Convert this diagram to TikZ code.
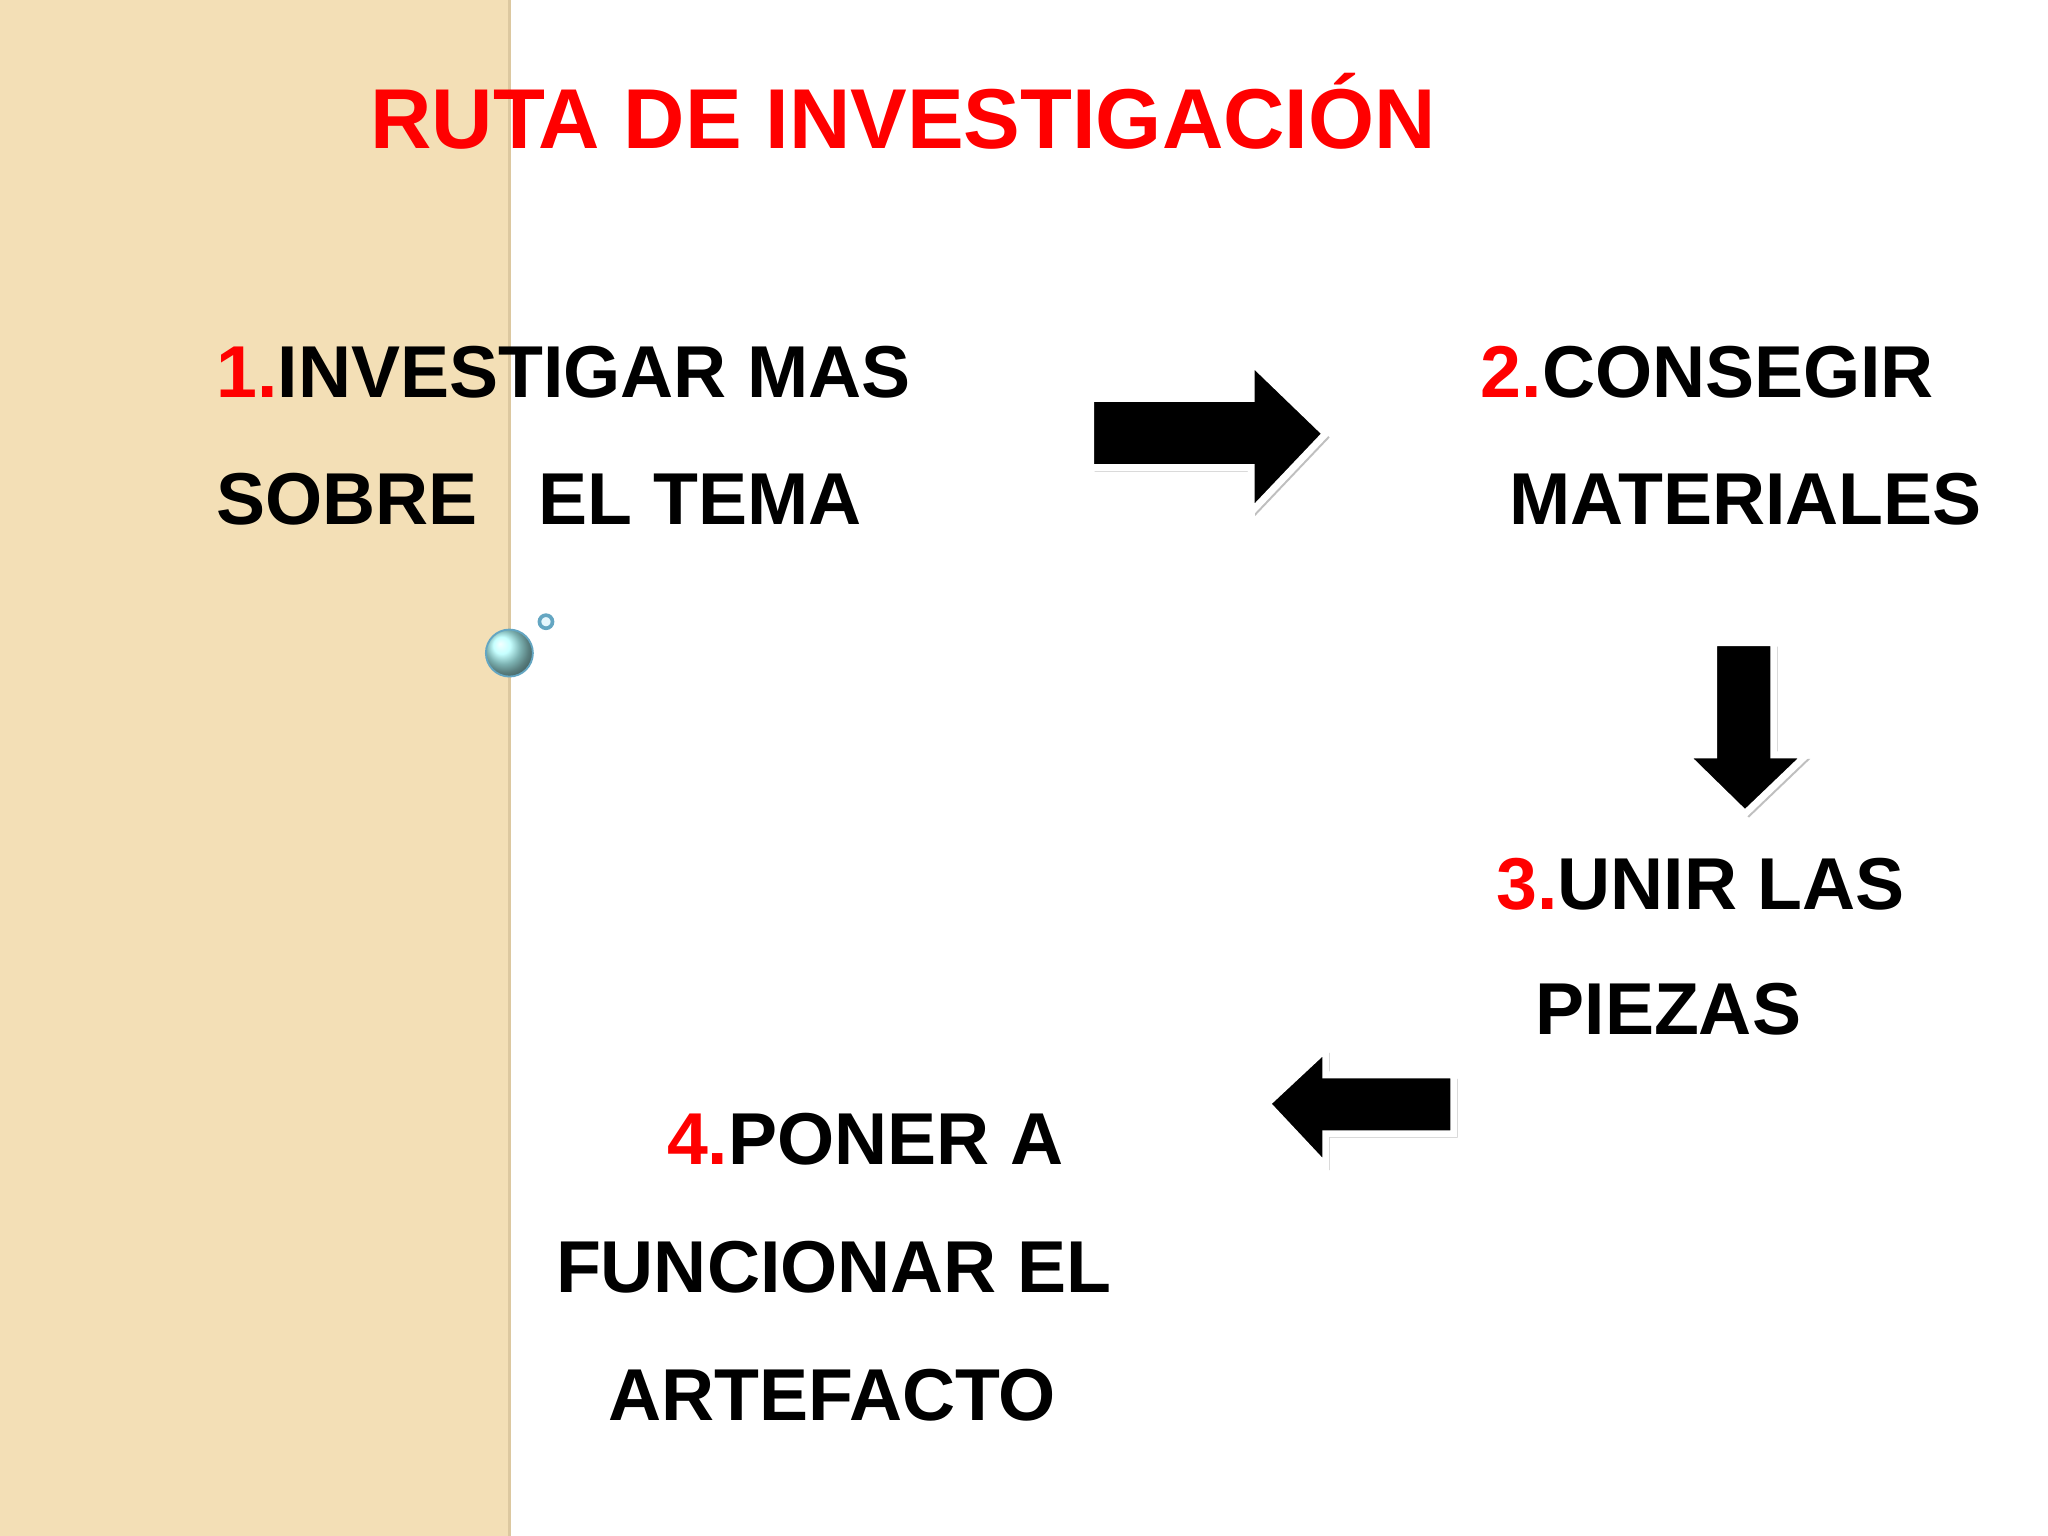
\documentclass[tikz,border=0pt]{standalone}
\usepackage{fontspec}
\setmainfont{Liberation Sans}
\begin{document}
\begin{tikzpicture}[x=0.01cm,y=-0.01cm,
  lbl/.style={anchor=west,font=\bfseries\fontsize{16}{18}\selectfont,text=black,inner sep=0},
  arr/.style={fill=black,draw=white,line width=1.5pt,drop shadow={opacity=0.4}}]
\useasboundingbox (0,0) rectangle (1568,1176);
\fill[white] (0,0) rectangle (1568,1176);
\fill[color={rgb,255:red,243;green,223;blue,182}] (0,0) rectangle (390,1176);
\draw[color={rgb,255:red,220;green,200;blue,160},line width=0.6pt] (390,0) -- (390,1176);
\node[anchor=west,inner sep=0,font=\bfseries\fontsize{18.5}{20}\selectfont,text=red] (title) at (283,85) {RUTA DE INVESTIGACIÓN};
\node[lbl] (t1a) at (165,285) {\textcolor{red}{1.}INVESTIGAR MAS};
\node[lbl] (t1b) at (165,382) {SOBRE\ \ \ EL TEMA};
\node[lbl] (t2a) at (1133,285) {\textcolor{red}{2.}CONSEGIR};
\node[lbl] (t2b) at (1155,382) {MATERIALES};
\node[lbl] (t3a) at (1145,677) {\textcolor{red}{3.}UNIR LAS};
\node[lbl] (t3b) at (1175,773) {PIEZAS};
\node[lbl] (t4a) at (510,872) {\textcolor{red}{4.}PONER A};
\node[lbl] (t4b) at (425,970) {FUNCIONAR EL};
\node[lbl] (t4c) at (465,1068) {ARTEFACTO};
\fill[gray!50] (838,308) -- (961,308) -- (961,280) -- (1018,335) -- (961,395) -- (961,361) -- (838,361) -- cycle;
\draw[fill=black,draw=white,line width=1.5pt] (835,305) -- (958,305) -- (958,277) -- (1015,332) -- (958,392) -- (958,358) -- (835,358) -- cycle;
\fill[gray!50] (1315,495) -- (1361,495) -- (1361,581) -- (1386,581) -- (1339,626) -- (1293,581) -- (1315,581) -- cycle;
\draw[fill=black,draw=white,line width=1.5pt] (1312,492) -- (1358,492) -- (1358,578) -- (1383,578) -- (1336,623) -- (1290,578) -- (1312,578) -- cycle;
\fill[gray!50] (973,848) -- (1018,806) -- (1018,826) -- (1116,826) -- (1116,871) -- (1018,871) -- (1018,896) -- cycle;
\draw[fill=black,draw=white,line width=1.5pt] (970,845) -- (1015,803) -- (1015,823) -- (1113,823) -- (1113,868) -- (1015,868) -- (1015,893) -- cycle;
\shade[ball color=cyan!30,draw=cyan!50!gray] (390,500) circle (18);
\draw[cyan!50!gray,fill=cyan!10,line width=0.8pt] (418,476) circle (5);
\end{tikzpicture}
\end{document}
